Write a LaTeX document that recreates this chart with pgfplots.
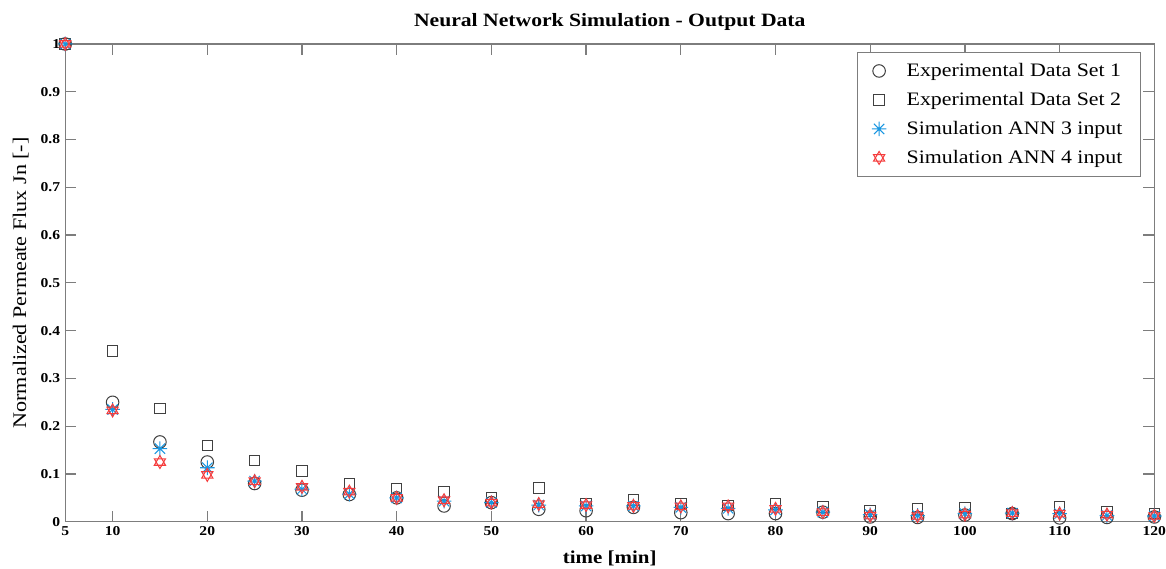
\documentclass[border=0pt]{standalone}
\usepackage{pgfplots}
\pgfplotsset{compat=1.18}
\usepackage{fontspec}
\setmainfont[FakeStretch=1.15]{Liberation Serif}
\definecolor{annblue}{RGB}{25,150,225}
\definecolor{annred}{RGB}{245,60,60}
\definecolor{axgray}{RGB}{125,125,125}
\pgfdeclareplotmark{matstar}{%
  \pgfpathmoveto{\pgfqpoint{0pt}{\pgfplotmarksize}}\pgfpathlineto{\pgfqpoint{0pt}{-\pgfplotmarksize}}%
  \pgfpathmoveto{\pgfqpoint{\pgfplotmarksize}{0pt}}\pgfpathlineto{\pgfqpoint{-\pgfplotmarksize}{0pt}}%
  \pgfpathmoveto{\pgfpointpolar{45}{\pgfplotmarksize}}\pgfpathlineto{\pgfpointpolar{225}{\pgfplotmarksize}}%
  \pgfpathmoveto{\pgfpointpolar{135}{\pgfplotmarksize}}\pgfpathlineto{\pgfpointpolar{315}{\pgfplotmarksize}}%
  \pgfusepathqstroke}
\pgfdeclareplotmark{hexagram}{%
  \pgfpathmoveto{\pgfpointpolar{90}{\pgfplotmarksize}}\pgfpathlineto{\pgfpointpolar{210}{\pgfplotmarksize}}\pgfpathlineto{\pgfpointpolar{330}{\pgfplotmarksize}}\pgfpathclose
  \pgfpathmoveto{\pgfpointpolar{270}{\pgfplotmarksize}}\pgfpathlineto{\pgfpointpolar{30}{\pgfplotmarksize}}\pgfpathlineto{\pgfpointpolar{150}{\pgfplotmarksize}}\pgfpathclose
  \pgfusepathqstroke}
\begin{document}
\begin{tikzpicture}
\begin{axis}[
  width=538pt, height=236pt, scale only axis,
  xmin=5, xmax=120, ymin=0, ymax=1,
  xtick={5,10,20,30,40,50,60,70,80,90,100,110,120},
  ytick={0,0.1,0.2,0.3,0.4,0.5,0.6,0.7,0.8,0.9,1},
  yticklabels={0,0.1,0.2,0.3,0.4,0.5,0.6,0.7,0.8,0.9,1},
  xticklabels={5,10,20,30,40,50,60,70,80,90,100,110,120},
  tick align=inside, major tick length=5.5pt,
  axis line style={axgray, line width=0.6pt},
  every tick/.style={axgray, line width=0.6pt},
  tick label style={font=\fontsize{6.7}{8}\selectfont\bfseries},
  xticklabel style={yshift=1pt, inner xsep=0pt},
  yticklabel style={xshift=1pt},
  title={\fontsize{9.3}{11}\selectfont\bfseries Neural Network Simulation - Output Data},
  title style={yshift=-6.5pt, inner ysep=6.8pt},
  xlabel={\fontsize{9}{10}\selectfont\bfseries time [min]},
  xlabel style={yshift=-2.3pt, inner ysep=1.5pt},
  ylabel={\fontsize{9.5}{11}\selectfont Normalized Permeate Flux Jn [-]},
  ylabel style={yshift=-1pt},
  clip=false,
  legend style={at={(0.988,0.983)}, anchor=north east, draw=axgray, line width=0.6pt,
    font=\fontsize{9.4}{12}\selectfont, row sep=2.3pt, column sep=8pt, inner xsep=7pt, inner ysep=3pt},
  legend cell align=left,
]
\addplot[only marks, mark=o, mark size=3.1pt, black!75, line width=0.5pt] coordinates {
(5,1) (10,0.25) (15,0.167) (20,0.125) (25,0.08) (30,0.066) (35,0.057) (40,0.05) (45,0.033) (50,0.04)
(55,0.026) (60,0.023) (65,0.03) (70,0.019) (75,0.017) (80,0.017) (85,0.02) (90,0.01) (95,0.009)
(100,0.014) (105,0.017) (110,0.008) (115,0.009) (120,0.01)};
\addlegendentry{Experimental Data Set 1}
\addplot[only marks, mark=square, mark size=2.6pt, black!75, line width=0.5pt] coordinates {
(5,1) (10,0.357) (15,0.237) (20,0.16) (25,0.128) (30,0.106) (35,0.08) (40,0.07) (45,0.062) (50,0.05)
(55,0.071) (60,0.038) (65,0.045) (70,0.038) (75,0.034) (80,0.037) (85,0.031) (90,0.022) (95,0.027)
(100,0.03) (105,0.017) (110,0.031) (115,0.02) (120,0.017)};
\addlegendentry{Experimental Data Set 2}
\addplot[only marks, mark=matstar, mark size=3.6pt, annblue, line width=0.5pt] coordinates {
(5,1) (10,0.235) (15,0.153) (20,0.113) (25,0.085) (30,0.068) (35,0.058) (40,0.05) (45,0.043) (50,0.04)
(55,0.035) (60,0.033) (65,0.033) (70,0.03) (75,0.028) (80,0.025) (85,0.02) (90,0.015) (95,0.013)
(100,0.017) (105,0.018) (110,0.017) (115,0.013) (120,0.012)};
\addlegendentry{Simulation ANN 3 input}
\addplot[only marks, mark=hexagram, mark size=3.2pt, annred, line width=0.5pt] coordinates {
(5,1) (10,0.233) (15,0.125) (20,0.098) (25,0.085) (30,0.073) (35,0.063) (40,0.05) (45,0.045) (50,0.04)
(55,0.037) (60,0.035) (65,0.033) (70,0.032) (75,0.032) (80,0.027) (85,0.02) (90,0.013) (95,0.012)
(100,0.015) (105,0.018) (110,0.017) (115,0.015) (120,0.012)};
\addlegendentry{Simulation ANN 4 input}
\end{axis}
\path ([xshift=-3pt]current bounding box.west);
\end{tikzpicture}
\end{document}
